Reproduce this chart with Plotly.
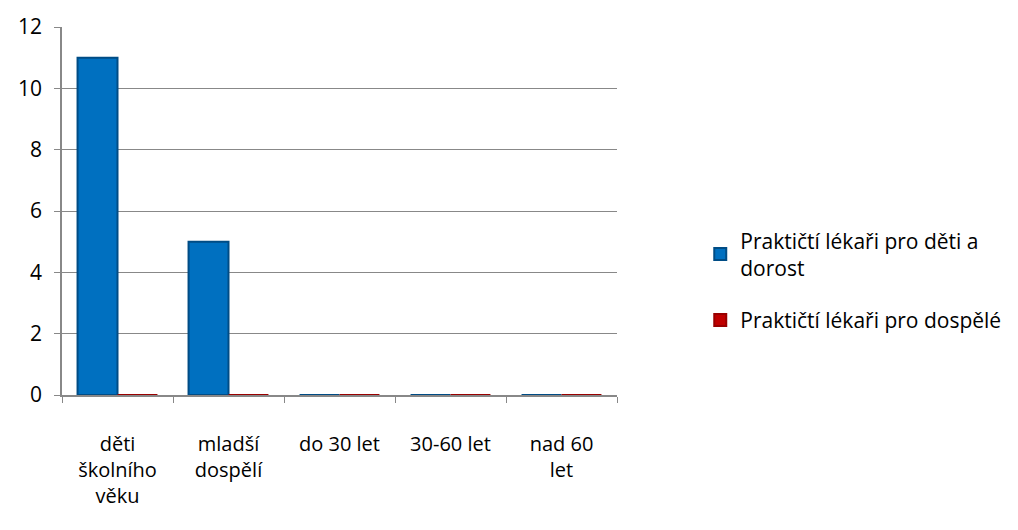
import plotly.graph_objects as go

categories = ["děti<br>školního<br>věku", "mladší<br>dospělí", "do 30 let", "30-60 let", "nad 60<br>let"]
series_names = ["Praktičtí lékaři pro děti a<br>dorost", "Praktičtí lékaři pro dospělé"]
deti_values = [11, 5, 0, 0, 0]
dospeli_values = [0, 0, 0, 0, 0]
y_ticks = [0, 2, 4, 6, 8, 10, 12]

font = "Open Sans, Liberation Sans, sans-serif"

fig = go.Figure()
fig.add_trace(go.Bar(x=categories, y=deti_values, name=series_names[0], legendgroup="a",
                     marker=dict(color="#0070C0", line=dict(color="#004C85", width=2))))
fig.add_trace(go.Bar(x=categories, y=dospeli_values, name=series_names[1], legendgroup="b",
                     marker=dict(color="#C00000", line=dict(color="#990000", width=2))))

fig.update_layout(
    width=1018, height=530,
    margin=dict(l=62, r=395, t=25, b=135),
    paper_bgcolor="white", plot_bgcolor="white",
    barmode="group", bargap=0.28, bargroupgap=0.0,
    font=dict(family=font, size=20, color="black"),
    legend=dict(x=1.15, y=0.475, xanchor="left", yanchor="top",
                font=dict(family=font, size=21, color="black"),
                itemwidth=30, tracegroupgap=22, traceorder="grouped"),
    xaxis=dict(showline=True, linecolor="#888888", linewidth=1.5, mirror=False,
               ticks="outside", tickcolor="#888888", ticklen=6,
               tickfont=dict(size=20), showgrid=False, tickson="boundaries",
               ticklabelstandoff=30),
    yaxis=dict(range=[0, 12], tickvals=y_ticks, showgrid=True, gridcolor="#888888",
               gridwidth=1, showline=True, linecolor="#888888", linewidth=1.5,
               ticks="outside", tickcolor="#888888", ticklen=6,
               tickfont=dict(size=21), zeroline=False, ticklabelstandoff=8),
)

fig.write_html("out.html")
